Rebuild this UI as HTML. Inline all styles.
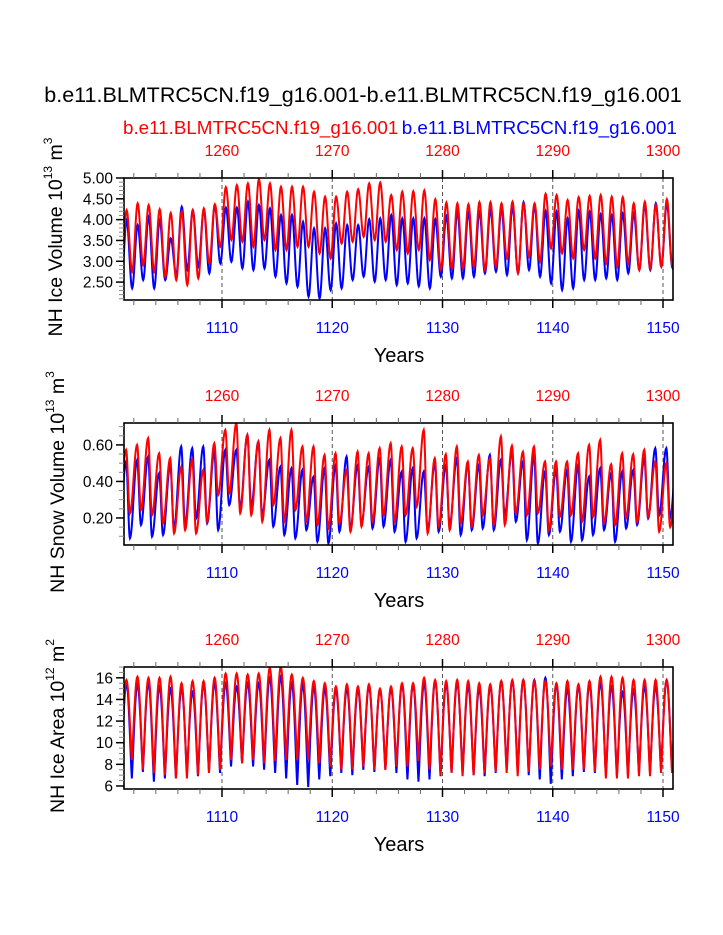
<!DOCTYPE html>
<html><head><meta charset="utf-8">
<style>
body{margin:0;background:#fff;}
svg{display:block;font-family:"Liberation Sans",Arial,sans-serif;}
</style></head>
<body>
<svg id="chart" width="723" height="935" viewBox="0 0 723 935" xmlns="http://www.w3.org/2000/svg">
<text x="363" y="102" font-size="21.5" text-anchor="middle">b.e11.BLMTRC5CN.f19_g16.001-b.e11.BLMTRC5CN.f19_g16.001</text>
<text x="123" y="134" font-size="18.8" fill="#ff0000">b.e11.BLMTRC5CN.f19_g16.001</text>
<text x="677" y="134" font-size="18.8" fill="#0000ff" text-anchor="end">b.e11.BLMTRC5CN.f19_g16.001</text>
</svg>
<script>
// ---- data (blue years 1101..1150; red = blue + 150) ----
const years = [];
for (let y = 1101; y <= 1150; y++) years.push(y);
const topTickLabels = ["1260","1270","1280","1290","1300"];
const bottomTickLabels = ["1110","1120","1130","1140","1150"];

const iceVolRedMax = [4.23,4.39,4.35,4.25,4.16,4.20,4.22,4.27,4.37,4.78,4.83,4.87,4.97,4.87,4.79,4.79,4.79,4.67,4.55,4.55,4.67,4.73,4.87,4.89,4.59,4.67,4.68,4.70,4.49,4.41,4.39,4.37,4.42,4.42,4.39,4.43,4.39,4.39,4.62,4.59,4.47,4.54,4.57,4.59,4.55,4.54,4.39,4.43,4.35,4.49];
const iceVolRedMin = [2.75,2.91,2.75,2.63,2.55,2.43,2.59,2.95,3.35,3.51,3.47,3.35,3.51,3.27,3.27,3.35,3.35,3.19,3.07,3.43,3.47,3.59,3.51,3.47,3.27,3.19,3.27,3.03,2.79,2.83,2.83,2.87,2.79,2.87,3.07,2.71,3.11,2.99,3.31,3.19,3.07,3.27,3.07,2.95,2.87,2.95,2.79,2.83,2.87,2.90];
const iceVolBlueMax = [3.99,3.87,4.07,3.99,3.55,4.31,4.23,4.23,4.35,4.29,4.29,4.43,4.35,4.27,4.11,4.11,3.95,3.79,3.79,3.91,3.87,3.87,4.01,4.03,4.11,4.03,4.03,4.03,4.01,4.09,4.19,4.17,4.19,4.23,4.27,4.31,4.42,4.35,4.21,4.19,4.03,4.21,4.19,4.13,4.11,4.15,4.15,4.35,4.39,4.39];
const iceVolBlueMin = [2.35,2.55,2.35,2.55,2.67,2.79,2.87,2.71,2.95,2.99,2.83,2.79,2.83,2.63,2.47,2.39,2.15,2.11,2.31,2.35,2.55,2.63,2.51,2.55,2.43,2.47,2.40,2.35,2.63,2.59,2.59,2.63,2.71,2.75,2.67,2.71,2.79,2.63,2.47,2.31,2.35,2.55,2.55,2.59,2.55,2.71,2.79,2.79,2.87,2.85];

const snowRedMax = [0.573,0.600,0.637,0.554,0.527,0.481,0.518,0.463,0.609,0.682,0.719,0.655,0.618,0.682,0.637,0.682,0.591,0.591,0.545,0.554,0.463,0.563,0.554,0.582,0.609,0.591,0.582,0.682,0.527,0.549,0.591,0.509,0.545,0.527,0.646,0.596,0.563,0.591,0.509,0.509,0.509,0.554,0.600,0.627,0.494,0.554,0.549,0.573,0.509,0.500];
const snowRedMin = [0.226,0.244,0.216,0.171,0.116,0.134,0.116,0.180,0.326,0.335,0.226,0.216,0.180,0.271,0.180,0.244,0.180,0.162,0.143,0.171,0.125,0.153,0.180,0.216,0.180,0.216,0.262,0.116,0.153,0.134,0.171,0.153,0.216,0.162,0.162,0.226,0.216,0.226,0.134,0.207,0.216,0.180,0.207,0.171,0.162,0.198,0.180,0.207,0.125,0.15];
const snowBlueMax = [0.509,0.518,0.536,0.445,0.490,0.591,0.582,0.591,0.563,0.573,0.573,0.655,0.618,0.518,0.481,0.472,0.463,0.426,0.472,0.490,0.536,0.490,0.481,0.527,0.518,0.454,0.472,0.454,0.500,0.490,0.527,0.500,0.490,0.545,0.518,0.563,0.509,0.545,0.454,0.463,0.463,0.490,0.426,0.472,0.445,0.454,0.463,0.527,0.582,0.582];
const snowBlueMin = [0.089,0.162,0.098,0.107,0.143,0.162,0.198,0.171,0.134,0.271,0.253,0.262,0.216,0.153,0.107,0.089,0.134,0.070,0.061,0.125,0.143,0.171,0.143,0.153,0.125,0.070,0.089,0.134,0.125,0.162,0.107,0.134,0.143,0.134,0.216,0.180,0.079,0.061,0.107,0.125,0.070,0.079,0.107,0.134,0.070,0.143,0.162,0.198,0.216,0.2];

const areaRedMax = [15.8,16.1,16.0,16.0,16.1,15.5,15.7,15.7,16.0,16.4,16.4,16.3,16.4,16.9,17.0,16.3,16.0,15.7,15.5,15.2,15.4,15.2,15.4,15.0,15.2,15.5,15.5,16.0,15.8,15.7,15.8,15.7,15.5,15.4,15.7,15.8,15.8,15.7,15.7,15.5,15.7,15.4,15.7,16.1,16.1,16.0,15.8,15.8,15.8,15.8];
const areaRedMin = [8.4,7.5,7.2,7.0,6.7,6.7,7.0,7.2,7.5,8.4,8.1,8.4,8.1,8.3,8.4,8.4,8.4,8.1,7.8,7.5,7.5,7.8,7.5,7.5,7.8,7.8,8.3,7.5,7.0,7.2,6.9,7.0,7.2,7.3,7.2,6.9,7.3,7.5,7.8,7.5,7.5,7.5,7.3,6.7,6.7,6.7,6.9,6.9,7.2,7.2];
const areaBlueMax = [15.5,15.4,15.5,15.2,15.0,15.0,14.7,15.4,15.5,15.5,15.2,15.5,15.5,16.0,16.1,15.5,15.4,15.2,15.0,14.9,15.0,14.9,15.2,14.9,15.0,15.4,15.4,15.5,15.7,15.4,15.5,15.2,15.0,15.2,15.7,15.7,15.8,15.8,16.0,15.4,15.0,15.2,15.4,15.5,15.2,14.7,14.9,15.2,15.2,15.8];
const areaBlueMin = [6.7,7.3,6.4,6.7,6.7,7.2,6.9,7.3,7.2,7.8,8.1,7.8,7.5,7.2,6.7,6.1,5.9,6.6,6.9,7.2,7.0,7.5,7.3,7.5,7.2,6.6,6.4,6.6,6.9,7.2,7.2,7.0,6.9,7.2,7.5,7.3,7.0,6.6,6.2,6.6,6.9,7.3,7.2,7.0,6.9,7.0,7.2,7.3,7.5,7.4];

// ---- layout ----
const X0 = 124, X1 = 673;
const xOf = t => 222 + (t - 1110) * (663 - 222) / 40;
const NS = "http://www.w3.org/2000/svg";
const svg = document.getElementById("chart");
function mk(tag, attrs, parent) {
  const e = document.createElementNS(NS, tag);
  for (const k in attrs) e.setAttribute(k, attrs[k]);
  (parent || svg).appendChild(e);
  return e;
}

const panels = [
  {key:"ice-volume", top:178, bot:300, vmax:5.0, vmin:2.07, majors:[2.5,3.0,3.5,4.0,4.5,5.0], fmt:v=>v.toFixed(2), minorStep:0.1, minorFrom:2.1,
   title:"NH Ice Volume 10", sup:"13", unit:" m", usup:"3", tx:55, peak:0.35, trough:0.85, sharp:1,
   red:[iceVolRedMax, iceVolRedMin], blue:[iceVolBlueMax, iceVolBlueMin]},
  {key:"snow-volume", top:423, bot:545, vmax:0.72, vmin:0.052, majors:[0.2,0.4,0.6], fmt:v=>v.toFixed(2), minorStep:0.05, minorFrom:0.1,
   title:"NH Snow Volume 10", sup:"13", unit:" m", usup:"3", tx:57, peak:0.3, trough:0.65, sharp:1,
   red:[snowRedMax, snowRedMin], blue:[snowBlueMax, snowBlueMin]},
  {key:"ice-area", top:667, bot:789, vmax:17.0, vmin:5.72, majors:[6,8,10,12,14,16], fmt:v=>String(v), minorStep:0.5, minorFrom:6,
   title:"NH Ice Area 10", sup:"12", unit:" m", usup:"2", tx:57, peak:0.33, trough:0.82, sharp:0.6,
   red:[areaRedMax, areaRedMin], blue:[areaBlueMax, areaBlueMin]}
];

panels.forEach((p, pi) => {
  const g = mk("g", {});
  
  
  const yOf = v => p.top + (p.vmax - v) * (p.bot - p.top) / (p.vmax - p.vmin);
  const clipId = "clip" + pi;
  const cp = mk("clipPath", {id: clipId}, g);
  mk("rect", {x: X0, y: p.top, width: X1 - X0, height: p.bot - p.top}, cp);

  for (let yr = 1110; yr <= 1150; yr += 10) {
    const l = mk("line", {x1: xOf(yr), x2: xOf(yr), y1: p.top, y2: p.bot, stroke: "#555", "stroke-width": 1, "stroke-dasharray": "4,3"}, g);
    
    
  }

  // series: blue first, red on top
  [["blue", "#0000ff", p.blue], ["red", "#ff0000", p.red]].forEach(([nm, col, arr]) => {
    const mx = arr[0], mn = arr[1];
    const knots = [];
    knots.push([years[0] - 1 + p.trough, mn[0]]);
    years.forEach((y, i) => {
      knots.push([y + p.peak, mx[i]]);
      knots.push([y + p.trough, mn[i]]);
    });
    knots.push([years[years.length - 1] + 1 + p.peak, mx[mx.length - 1]]);
    let d = "";
    for (let k = 0; k < knots.length - 1; k++) {
      const [t0, v0] = knots[k], [t1, v1] = knots[k + 1];
      const lo = Math.min(v0, v1), hi = Math.max(v0, v1);
      for (let s = 0; s <= 12; s++) {
        const f = s / 12;
        const c = (1 - Math.cos(Math.PI * f)) / 2;
        let u = v1 > v0 ? c : 1 - c;
        u = Math.pow(u, p.sharp);
        const v = lo + (hi - lo) * u;
        const t = t0 + (t1 - t0) * f;
        d += (d ? "L" : "M") + xOf(t).toFixed(2) + "," + yOf(v).toFixed(2);
      }
    }
    const path = mk("path", {d: d, fill: "none", stroke: col, "stroke-width": 2, "clip-path": "url(#" + clipId + ")"}, g);
    
    
  });

  const fr = mk("rect", {x: X0, y: p.top, width: X1 - X0, height: p.bot - p.top, fill: "none", stroke: "#000", "stroke-width": 1.6}, g);
  
  

  for (let yr = 1102; yr <= 1150; yr += 2) {
    const major = yr % 10 === 0;
    const len = major ? 8 : 5;
    const x = xOf(yr);
    mk("line", {x1: x, x2: x, y1: p.top, y2: p.top - len, stroke: major ? "#000" : "#666", "stroke-width": major ? 1.5 : 1}, g);
    mk("line", {x1: x, x2: x, y1: p.bot, y2: p.bot + len, stroke: major ? "#000" : "#666", "stroke-width": major ? 1.5 : 1}, g);
  }
  bottomTickLabels.forEach((lab, i) => {
    const x = xOf(1110 + 10 * i);
    const t1 = mk("text", {x: x, y: p.top - 22, "font-size": 15.5, fill: "#ff0000", "text-anchor": "middle"}, g);
    t1.textContent = topTickLabels[i];
    
    
    const t2 = mk("text", {x: x, y: p.bot + 33, "font-size": 15.5, fill: "#0000ff", "text-anchor": "middle"}, g);
    t2.textContent = lab;
    
    
  });

  for (let v = p.minorFrom; v <= p.vmax + 1e-9; v += p.minorStep) {
    const y = yOf(v);
    if (y < p.top - 0.5 || y > p.bot + 0.5) continue;
    const major = p.majors.some(m => Math.abs(m - v) < 1e-6);
    mk("line", {x1: X0, x2: X0 - (major ? 8 : 5), y1: y, y2: y, stroke: major ? "#000" : "#888", "stroke-width": major ? 1.5 : 1}, g);
  }
  p.majors.forEach(m => {
    const t = mk("text", {x: X0 - 11, y: yOf(m) + 5.5, "font-size": 15.5, "text-anchor": "end"}, g);
    t.textContent = p.fmt(m);
    
    
  });

  const yt = mk("text", {x: 0, y: 0, "font-size": 19.5, "text-anchor": "middle",
    transform: "translate(" + (p.tx + 7) + "," + ((p.top + p.bot) / 2 - 2) + ") rotate(-90)"}, g);
  
  
  yt.innerHTML = p.title + '<tspan font-size="12" dy="-10">' + p.sup + '</tspan><tspan dy="10">' + p.unit + '</tspan><tspan font-size="12" dy="-10">' + p.usup + '</tspan>';
  const xt = mk("text", {x: 399, y: p.bot + 62, "font-size": 20, "text-anchor": "middle"}, g);
  xt.textContent = "Years";
  
  
});
</script>
</body></html>
